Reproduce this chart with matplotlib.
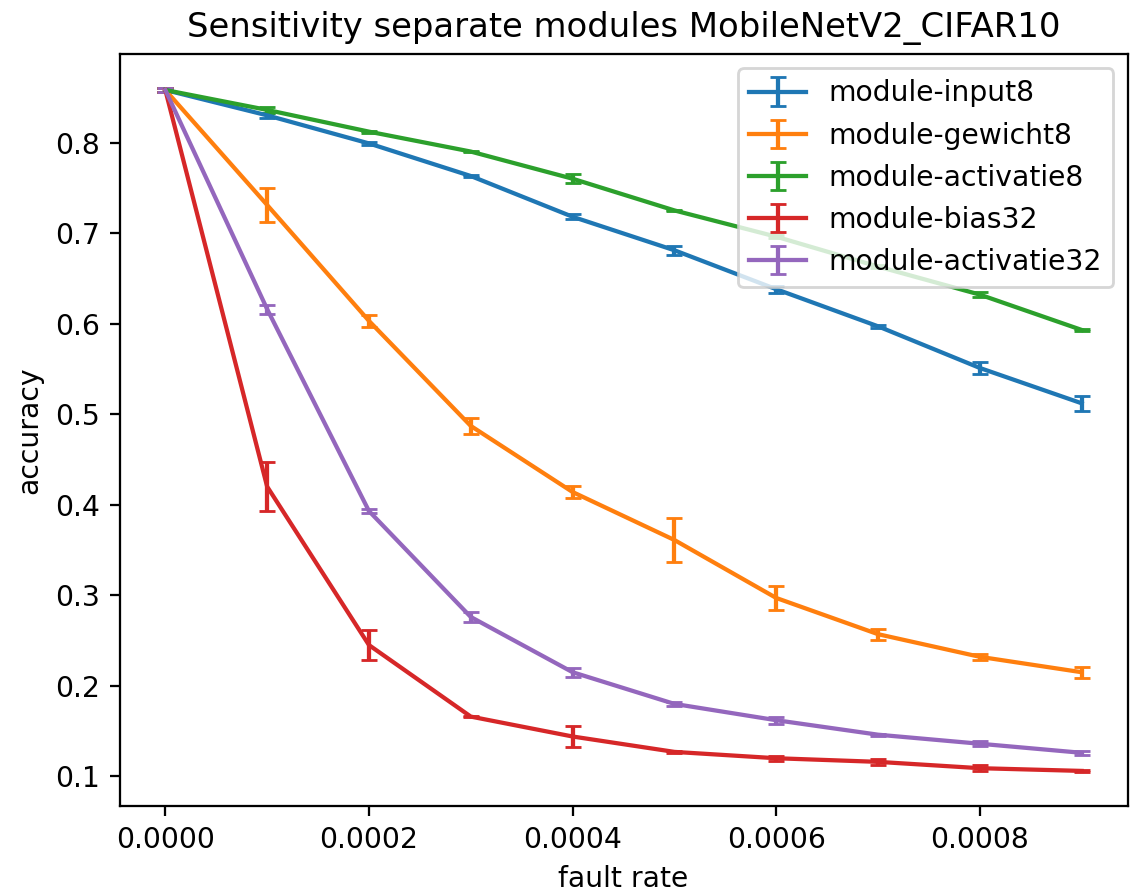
import numpy as np
import matplotlib
matplotlib.use("Agg")
import matplotlib.pyplot as plt

# fault rates tested
fault_rates = [0.0, 0.0001, 0.0002, 0.0003, 0.0004, 0.0005, 0.0006, 0.0007, 0.0008, 0.0009]

# mean accuracy and std per module
input8 = [0.858, 0.830, 0.799, 0.763, 0.718, 0.681, 0.638, 0.597, 0.551, 0.512]
input8_err = [0.002, 0.003, 0.002, 0.001, 0.003, 0.005, 0.004, 0.002, 0.007, 0.008]

gewicht8 = [0.858, 0.731, 0.603, 0.487, 0.414, 0.361, 0.297, 0.257, 0.232, 0.215]
gewicht8_err = [0.002, 0.019, 0.007, 0.009, 0.007, 0.024, 0.013, 0.006, 0.003, 0.006]

activatie8 = [0.858, 0.836, 0.812, 0.790, 0.760, 0.725, 0.696, 0.663, 0.632, 0.593]
activatie8_err = [0.002, 0.003, 0.001, 0.001, 0.005, 0.001, 0.002, 0.002, 0.003, 0.001]

bias32 = [0.858, 0.420, 0.245, 0.166, 0.144, 0.127, 0.120, 0.116, 0.109, 0.106]
bias32_err = [0.002, 0.027, 0.017, 0.001, 0.012, 0.001, 0.003, 0.003, 0.003, 0.001]

activatie32 = [0.858, 0.616, 0.393, 0.276, 0.215, 0.180, 0.162, 0.146, 0.136, 0.126]
activatie32_err = [0.002, 0.005, 0.002, 0.006, 0.005, 0.002, 0.004, 0.001, 0.003, 0.002]

series = [
    ("module-input8", input8, input8_err),
    ("module-gewicht8", gewicht8, gewicht8_err),
    ("module-activatie8", activatie8, activatie8_err),
    ("module-bias32", bias32, bias32_err),
    ("module-activatie32", activatie32, activatie32_err),
]

dpi = 203.5
fig = plt.figure(figsize=(1138 / dpi, 893 / dpi), dpi=dpi)
ax = fig.add_axes([119.5 / 1138, (893 - 806) / 893, 1008 / 1138, 752 / 893])

for name, vals, errs in series:
    ax.errorbar(fault_rates, vals, yerr=errs, capsize=3, label=name)

ax.set_xlabel("fault rate")
ax.set_ylabel("accuracy")
ax.set_title("Sensitivity separate modules MobileNetV2_CIFAR10")
ax.legend(loc="upper right")

fig.savefig("out.png", dpi=dpi)
